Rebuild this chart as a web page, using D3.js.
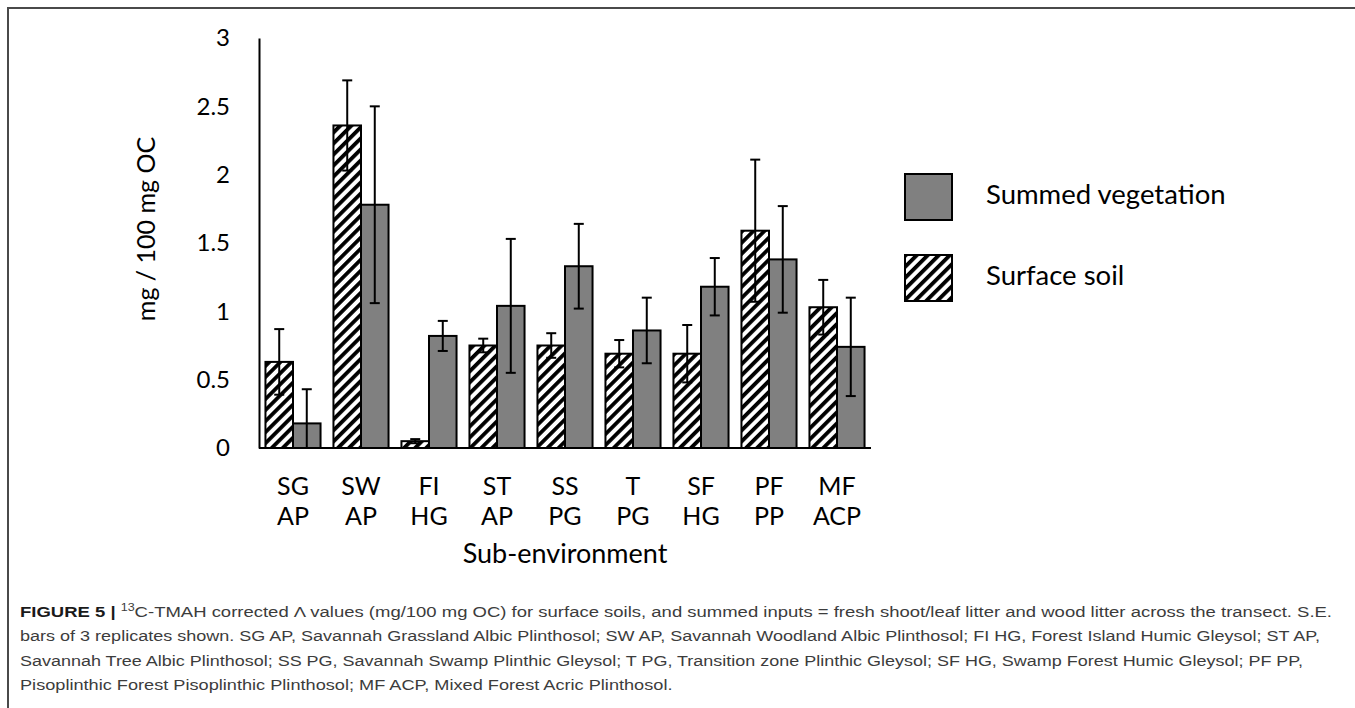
<!DOCTYPE html>
<meta charset="UTF-8">
<style>
body { margin: 0; background: #fff; }
svg text { font-family: Lato, "Open Sans", sans-serif; fill: #000; }
.caption text { font-family: "Liberation Sans", Arial, sans-serif; font-size: 15.5px; fill: #3c3c3c; }
</style>
<body>
<script src="https://d3js.org/d3.v7.min.js"></script>
<script>
// sub-environments, two label lines each
var catTop = ["SG", "SW", "FI", "ST", "SS", "T", "SF", "PF", "MF"];
var catBottom = ["AP", "AP", "HG", "AP", "PG", "PG", "HG", "PP", "ACP"];
// surface soil values and S.E.
var surface = [0.63, 2.36, 0.05, 0.75, 0.75, 0.69, 0.69, 1.59, 1.03];
var surfaceSE = [0.24, 0.33, 0.015, 0.05, 0.09, 0.10, 0.21, 0.52, 0.20];
// summed vegetation values and S.E.
var veg = [0.18, 1.78, 0.82, 1.04, 1.33, 0.86, 1.18, 1.38, 0.74];
var vegSE = [0.25, 0.72, 0.11, 0.49, 0.31, 0.24, 0.21, 0.39, 0.36];
var yTicks = [0, 0.5, 1, 1.5, 2, 2.5, 3];
var legendNames = ["Summed vegetation", "Surface soil"];

var captionLines = [
  [["b", "FIGURE 5 | "], ["sup", "13"], ["", "C-TMAH corrected \u039B values (mg/100 mg OC) for surface soils, and summed inputs = fresh shoot/leaf litter and wood litter across the transect. S.E."]],
  [["", "bars of 3 replicates shown. SG AP, Savannah Grassland Albic Plinthosol; SW AP, Savannah Woodland Albic Plinthosol; FI HG, Forest Island Humic Gleysol; ST AP,"]],
  [["", "Savannah Tree Albic Plinthosol; SS PG, Savannah Swamp Plinthic Gleysol; T PG, Transition zone Plinthic Gleysol; SF HG, Swamp Forest Humic Gleysol; PF PP,"]],
  [["", "Pisoplinthic Forest Pisoplinthic Plinthosol; MF ACP, Mixed Forest Acric Plinthosol."]]
];
// measured line widths in the reference; last line follows the others' squeeze
var captionWidths = [1312, 1300, 1283, null];

var W = 1355, H = 708;
var svg = d3.select("body").append("svg").attr("width", W).attr("height", H);

// hatch pattern
var defs = svg.append("defs");
defs.append("pattern")
    .attr("id", "hatch")
    .attr("patternUnits", "userSpaceOnUse")
    .attr("width", 7.8).attr("height", 7.8)
    .attr("patternTransform", "rotate(45)")
  .call(function(p) {
    p.append("rect").attr("width", 7.8).attr("height", 7.8).attr("fill", "#fff");
    p.append("rect").attr("width", 3.8).attr("height", 7.8).attr("fill", "#000");
  });

// frame (top and left edge)
svg.append("path")
    .attr("d", "M8," + H + "V8H" + W)
    .attr("fill", "none").attr("stroke", "#4a4a4a").attr("stroke-width", 2);

var x = d3.scaleBand().domain(d3.range(catTop.length)).range([259, 871])
    .paddingInner(0.19).paddingOuter(0.095);
var y = d3.scaleLinear().domain([0, 3]).range([448, 38]);
var xs = d3.scaleBand().domain([0, 1]).range([0, x.bandwidth()]);

// y axis
var yAxis = svg.append("g").attr("transform", "translate(259,0)")
    .call(d3.axisLeft(y).tickValues(yTicks).tickSize(0).tickSizeOuter(0).tickPadding(29)
      .tickFormat(d3.format("")));
yAxis.select(".domain").attr("stroke", "#000").attr("stroke-width", 2);
yAxis.selectAll("text").attr("font-size", 24).attr("font-family", "Lato").attr("fill", "#000");

// bars
var series = [
  {vals: surface, se: surfaceSE, fill: "url(#hatch)"},
  {vals: veg, se: vegSE, fill: "#808080"}
];
series.forEach(function(s, k) {
  var g = svg.append("g");
  g.selectAll("rect").data(s.vals).join("rect")
      .attr("x", function(d, i) { return x(i) + xs(k); })
      .attr("y", function(d) { return y(d); })
      .attr("width", xs.bandwidth())
      .attr("height", function(d) { return y(0) - y(d); })
      .attr("fill", s.fill)
      .attr("stroke", "#000").attr("stroke-width", 2);
});
// error bars on top
series.forEach(function(s, k) {
  var g = svg.append("g").attr("stroke", "#000").attr("stroke-width", 2);
  s.vals.forEach(function(d, i) {
    var cx = x(i) + xs(k) + xs.bandwidth() / 2;
    var hi = y(d + s.se[i]), low = d - s.se[i];
    var lo = y(Math.max(0, low));
    g.append("line").attr("x1", cx).attr("x2", cx).attr("y1", hi).attr("y2", lo);
    g.append("line").attr("x1", cx - 5).attr("x2", cx + 5).attr("y1", hi).attr("y2", hi);
    if (low > 0) g.append("line").attr("x1", cx - 5).attr("x2", cx + 5).attr("y1", lo).attr("y2", lo);
  });
});

// x axis line
svg.append("line").attr("x1", 259).attr("x2", 871).attr("y1", y(0)).attr("y2", y(0))
    .attr("stroke", "#000").attr("stroke-width", 2);

// category labels
var lab = svg.append("g").attr("font-size", 25).attr("text-anchor", "middle");
catTop.forEach(function(c, i) {
  var cx = x(i) + x.bandwidth() / 2;
  lab.append("text").attr("x", cx).attr("y", 495).text(c);
  lab.append("text").attr("x", cx).attr("y", 525).text(catBottom[i]);
});
svg.append("text").attr("x", 565).attr("y", 563).attr("text-anchor", "middle")
    .attr("font-size", 27).text("Sub-environment");
svg.append("text").attr("transform", "translate(155,229) rotate(-90)")
    .attr("text-anchor", "middle").attr("font-size", 25).text("mg / 100 mg OC");

// legend
var leg = svg.append("g");
[{fill: "#808080", y: 174}, {fill: "url(#hatch)", y: 255}].forEach(function(l, i) {
  leg.append("rect").attr("x", 905).attr("y", l.y).attr("width", 47).attr("height", 46)
      .attr("fill", l.fill).attr("stroke", "#000").attr("stroke-width", 2);
  leg.append("text").attr("x", 986).attr("y", l.y + 22).attr("dy", "0.3em")
      .attr("font-size", 27.5).text(legendNames[i]);
});

// caption
var cap = svg.append("g").attr("class", "caption");
var ratios = [];
captionLines.forEach(function(parts, li) {
  var t = cap.append("text").attr("x", 20).attr("y", 617 + li * 24.3);
  parts.forEach(function(p) {
    var ts = t.append("tspan").text(p[1]);
    if (p[0] === "b") ts.attr("font-weight", "bold").style("fill", "#1a1a1a");
    if (p[0] === "sup") { ts.attr("font-size", 10.5).attr("dy", -6); }
    if (p[0] === "" && parts.length > 1) ts.attr("dy", 6);
  });
  var natural = t.node().getComputedTextLength();
  var target = captionWidths[li];
  if (target) ratios.push(target / natural);
  else target = natural * d3.mean(ratios);
  t.attr("textLength", target).attr("lengthAdjust", "spacingAndGlyphs");
});
</script>
</body>
